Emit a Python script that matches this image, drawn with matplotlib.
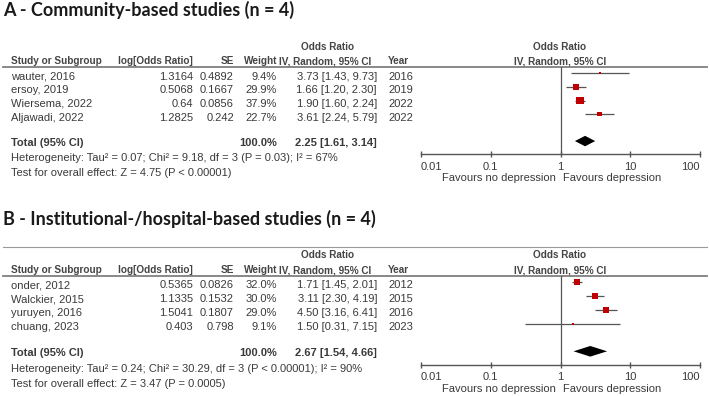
import numpy as np
import matplotlib
matplotlib.use('Agg')
import matplotlib.pyplot as plt

# panel A - community based
names_a = ['wauter, 2016', 'ersoy, 2019', 'Wiersema, 2022', 'Aljawadi, 2022']
logor_a = [1.3164, 0.5068, 0.64, 1.2825]
se_a = [0.4892, 0.1667, 0.0856, 0.242]
weight_a = [9.4, 29.9, 37.9, 22.7]
or_a = [3.73, 1.66, 1.90, 3.61]
lo_a = [1.43, 1.20, 1.60, 2.24]
hi_a = [9.73, 2.30, 2.24, 5.79]
year_a = [2016, 2019, 2022, 2022]
total_a = [2.25, 1.61, 3.14]
het_a = 'Heterogeneity: Tau² = 0.07; Chi² = 9.18, df = 3 (P = 0.03); I² = 67%'
test_a = 'Test for overall effect: Z = 4.75 (P < 0.00001)'

# panel B - institutional / hospital based
names_b = ['onder, 2012', 'Walckier, 2015', 'yuruyen, 2016', 'chuang, 2023']
logor_b = [0.5365, 1.1335, 1.5041, 0.403]
se_b = [0.0826, 0.1532, 0.1807, 0.798]
weight_b = [32.0, 30.0, 29.0, 9.1]
or_b = [1.71, 3.11, 4.50, 1.50]
lo_b = [1.45, 2.30, 3.16, 0.31]
hi_b = [2.01, 4.19, 6.41, 7.15]
year_b = [2012, 2015, 2016, 2023]
total_b = [2.67, 1.54, 4.66]
het_b = 'Heterogeneity: Tau² = 0.24; Chi² = 30.29, df = 3 (P < 0.00001); I² = 90%'
test_b = 'Test for overall effect: Z = 3.47 (P = 0.0005)'

xticks = [0.01, 0.1, 1, 10, 100]
xticklabels = ['0.01', '0.1', '1', '10', '100']

W, H = 709, 396
fig = plt.figure(figsize=(W / 100, H / 100), dpi=100)
bg = fig.add_axes([0, 0, 1, 1])
bg.set_xlim(0, W)
bg.set_ylim(H, 0)
bg.axis('off')

tf = 'Liberation Sans'
tc = '#3a3a3a'
fs = 8.0


def panel(title, ty, y0, dy, names, logor, se, weight, orr, lo, hi, years, total, het, test, topline=None):
    bg.text(3, ty, title, fontsize=13, fontweight='bold', family='Lato', color='#1a1a1a', va='center')
    if topline is not None:
        bg.plot([3, 707], [topline, topline], color='#9a9a9a', lw=0.8)
    txt = lambda i: y0 + i * dy + 3.5
    h1 = y0 - 1.9 * dy
    h2 = y0 - 0.85 * dy
    und = y0 - 0.44 * dy
    kw = dict(fontsize=7.2, fontweight='bold', family=tf, color='#444444', va='center')
    bg.text(328, h1, 'Odds Ratio', ha='center', **kw)
    bg.text(560, h1, 'Odds Ratio', ha='center', **kw)
    bg.text(11, h2, 'Study or Subgroup', ha='left', **kw)
    bg.text(193, h2, 'log[Odds Ratio]', ha='right', **kw)
    bg.text(234, h2, 'SE', ha='right', **kw)
    bg.text(277, h2, 'Weight', ha='right', **kw)
    bg.text(279, h2, 'IV, Random, 95% CI', ha='left', **kw)
    bg.text(388, h2, 'Year', ha='left', **kw)
    bg.text(560, h2, 'IV, Random, 95% CI', ha='center', **kw)
    bg.plot([3, 707], [und, und], color='#7f7f7f', lw=1.3)

    kw = dict(fontsize=fs, family=tf, color=tc, va='center')
    for i in range(len(names)):
        y = txt(i)
        bg.text(11, y, names[i], ha='left', **kw)
        bg.text(193, y, str(logor[i]), ha='right', **kw)
        bg.text(234, y, str(se[i]), ha='right', **kw)
        bg.text(277, y, f'{weight[i]:.1f}%', ha='right', **kw)
        bg.text(377, y, f'{orr[i]:.2f} [{lo[i]:.2f}, {hi[i]:.2f}]', ha='right', **kw)
        bg.text(388, y, str(years[i]), ha='left', **kw)
    yt = y0 + 4.95 * dy + 2
    bg.text(11, yt, 'Total (95% CI)', ha='left', fontweight='bold', **kw)
    bg.text(277, yt, '100.0%', ha='right', fontweight='bold', **kw)
    bg.text(377, yt, f'{total[0]:.2f} [{total[1]:.2f}, {total[2]:.2f}]', ha='right', fontweight='bold', **kw)
    bg.text(11, y0 + 6.2 * dy, het, ha='left', **kw)
    bg.text(11, y0 + 7.3 * dy, test, ha='left', **kw)

    # forest plot
    ytop, ybot = -0.44, 5.9
    py_top = y0 + ytop * dy
    py_bot = y0 + ybot * dy
    ax = fig.add_axes([421 / W, 1 - py_bot / H, (700 - 421) / W, (py_bot - py_top) / H])
    ax.patch.set_alpha(0)
    ax.set_xscale('log')
    ax.set_xlim(0.01, 100)
    ax.set_ylim(ybot, ytop)
    for s in ['top', 'left', 'right']:
        ax.spines[s].set_visible(False)
    ax.spines['bottom'].set_color('#555555')
    ax.spines['bottom'].set_linewidth(1.0)
    ax.axvline(1, color='#555555', lw=0.9)
    rows = np.arange(len(names))
    ax.hlines(rows, lo, hi, color='#555555', lw=0.9)
    sizes = [(max(w * 0.19, 1.8) * 0.72) ** 2 for w in weight]
    ax.scatter(orr, rows, marker='s', s=sizes, color='#c00000', zorder=3, linewidths=0)
    hh = 0.38
    yd = 4.95
    ax.fill([total[1], total[0], total[2], total[0]], [yd, yd - hh, yd, yd + hh], color='black', lw=0)
    ax.set_yticks([])
    ax.set_xticks(xticks)
    ax.set_xticklabels(xticklabels)
    ax.minorticks_off()
    ax.tick_params(axis='x', direction='inout', length=5, width=1, color='#555555', labelsize=fs, labelcolor=tc, pad=3)
    lbls = ax.get_xticklabels()
    lbls[0].set_ha('left')
    lbls[-1].set_ha('right')
    for l in lbls:
        l.set_family(tf)
    fy = y0 + 7.65 * dy
    bg.text(556, fy, 'Favours no depression', ha='right', **kw)
    bg.text(563, fy, 'Favours depression', ha='left', **kw)


panel('A - Community-based studies (n = 4)', 10, 73, 13.75, names_a, logor_a, se_a, weight_a,
      or_a, lo_a, hi_a, year_a, total_a, het_a, test_a)
panel('B - Institutional-/hospital-based studies (n = 4)', 219, 282, 14, names_b, logor_b, se_b, weight_b,
      or_b, lo_b, hi_b, year_b, total_b, het_b, test_b, topline=247)

fig.savefig('out.png', dpi=100)
